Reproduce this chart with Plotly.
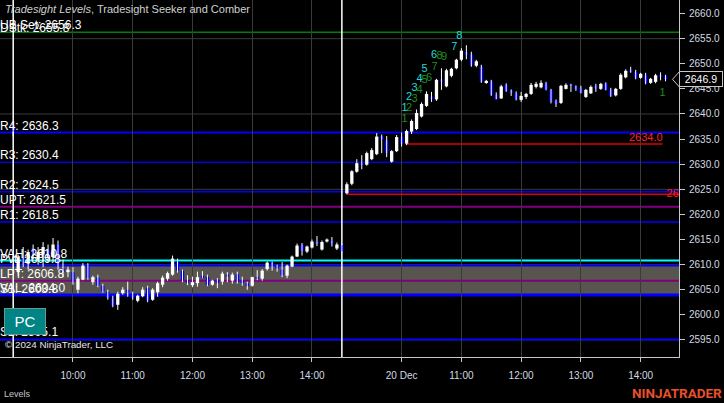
import plotly.graph_objects as go

# ---------------- data ----------------
# 5-minute bars; slot 0 = last bar of prior session, 1..66 = 19 Dec session, 67.. = 20 Dec session
opens = [2637.8,
 2608.5, 2611.5, 2610.2, 2613.3, 2611.0, 2612.0, 2613.0, 2611.5, 2614.0, 2609.2,
 2608.5, 2608.5, 2605.0, 2607.0, 2609.7, 2606.5, 2607.4, 2605.8, 2604.6, 2603.4,
 2602.0, 2604.3, 2605.0, 2604.2, 2602.8, 2603.7, 2605.4, 2603.0, 2604.5, 2606.0,
 2607.2, 2608.0, 2610.6, 2608.8, 2606.9, 2605.9, 2606.3, 2607.8, 2607.6, 2606.0,
 2607.0, 2606.6, 2608.0, 2606.8, 2608.1, 2606.9, 2606.3, 2605.8, 2607.4, 2607.2,
 2609.1, 2610.4, 2609.8, 2609.0, 2607.8, 2609.6, 2611.6, 2613.9, 2612.6, 2613.4,
 2614.6, 2613.0, 2614.6, 2614.7, 2613.2, 2613.9,
 2624.2, 2626.1, 2628.5, 2630.3, 2629.9, 2631.0, 2632.0, 2635.6, 2634.8, 2630.5,
 2632.6, 2635.5, 2634.1, 2636.5, 2637.0, 2639.5, 2641.6, 2643.5, 2642.9, 2646.9,
 2645.5, 2647.6, 2649.1, 2650.8, 2652.3, 2651.9, 2649.6, 2649.4, 2646.3, 2646.5,
 2643.8, 2643.1, 2645.8, 2644.7, 2644.1, 2642.8, 2643.4, 2644.0, 2645.4, 2645.3,
 2646.1, 2644.8, 2642.6, 2642.2, 2645.0, 2645.9, 2645.5, 2645.1, 2643.4, 2644.1,
 2645.6, 2645.0, 2646.1, 2644.9, 2643.7, 2645.0, 2647.3, 2648.6, 2648.4, 2647.2,
 2647.8, 2646.2, 2646.4, 2647.8, 2647.6]
highs = [2638.0,
 2612.0, 2613.5, 2613.0, 2614.0, 2613.5, 2614.5, 2614.0, 2615.3, 2614.8, 2611.0,
 2609.6, 2609.5, 2607.6, 2610.3, 2610.3, 2607.8, 2608.0, 2606.2, 2605.0, 2603.8,
 2604.6, 2605.5, 2606.6, 2604.6, 2604.0, 2605.5, 2605.8, 2605.3, 2606.6, 2607.8,
 2608.6, 2611.8, 2611.2, 2609.0, 2607.9, 2607.6, 2608.6, 2608.7, 2608.0, 2607.0,
 2607.3, 2608.6, 2608.5, 2608.4, 2608.6, 2607.6, 2606.6, 2607.6, 2608.9, 2609.1,
 2610.6, 2610.6, 2610.0, 2610.5, 2610.0, 2611.8, 2614.2, 2614.3, 2613.8, 2615.0,
 2615.7, 2614.8, 2615.2, 2615.5, 2614.4, 2614.2,
 2626.4, 2628.8, 2631.0, 2631.8, 2632.5, 2633.2, 2636.2, 2635.9, 2635.6, 2632.8,
 2635.8, 2636.3, 2636.9, 2638.9, 2640.9, 2642.3, 2644.5, 2644.4, 2647.0, 2649.1,
 2649.0, 2649.2, 2651.0, 2653.1, 2653.7, 2652.4, 2650.8, 2649.8, 2646.8, 2646.8,
 2644.3, 2645.8, 2646.1, 2644.9, 2644.5, 2644.4, 2644.2, 2646.2, 2646.4, 2646.7,
 2646.4, 2645.0, 2642.9, 2645.8, 2646.1, 2646.0, 2645.7, 2645.6, 2645.0, 2645.7,
 2646.0, 2646.2, 2646.3, 2645.2, 2645.2, 2648.1, 2648.9, 2649.4, 2648.8, 2648.2,
 2648.2, 2647.2, 2648.0, 2648.3, 2647.8]
lows = [2635.5,
 2607.8, 2609.5, 2609.0, 2611.0, 2610.0, 2609.5, 2610.5, 2610.5, 2609.0, 2607.5,
 2607.5, 2606.0, 2604.3, 2606.9, 2607.0, 2606.0, 2605.5, 2604.4, 2603.0, 2601.5,
 2601.0, 2604.0, 2603.6, 2603.0, 2602.5, 2603.5, 2602.5, 2602.8, 2603.6, 2605.5,
 2606.8, 2607.8, 2608.4, 2606.5, 2605.9, 2605.5, 2605.6, 2607.3, 2605.7, 2605.8,
 2605.3, 2606.0, 2606.5, 2606.2, 2606.2, 2605.8, 2605.0, 2605.6, 2606.9, 2606.8,
 2608.8, 2608.8, 2608.6, 2607.5, 2607.3, 2609.5, 2611.5, 2611.8, 2612.3, 2613.2,
 2613.7, 2612.8, 2614.4, 2613.6, 2612.9, 2612.4,
 2624.0, 2625.8, 2628.3, 2629.0, 2629.7, 2630.8, 2631.8, 2632.2, 2631.4, 2630.3,
 2632.4, 2633.5, 2633.8, 2636.0, 2636.8, 2639.3, 2641.4, 2642.4, 2642.6, 2644.8,
 2645.3, 2647.3, 2648.9, 2650.5, 2650.9, 2649.4, 2649.3, 2646.2, 2646.0, 2643.6,
 2642.9, 2643.0, 2644.4, 2643.6, 2642.7, 2642.4, 2643.0, 2643.8, 2645.1, 2645.1,
 2644.7, 2642.1, 2641.4, 2642.0, 2644.9, 2644.4, 2644.6, 2644.1, 2643.2, 2644.0,
 2644.4, 2644.8, 2644.7, 2643.4, 2643.5, 2644.8, 2647.1, 2648.2, 2646.9, 2647.0,
 2645.9, 2646.0, 2646.1, 2646.7, 2646.5]
closes = [2636.5,
 2611.5, 2610.2, 2612.5, 2611.9, 2612.5, 2613.5, 2611.5, 2614.0, 2609.7, 2608.5,
 2609.0, 2606.6, 2607.2, 2609.8, 2607.3, 2607.5, 2605.8, 2604.6, 2603.4, 2601.8,
 2604.2, 2605.0, 2604.4, 2603.3, 2603.8, 2605.0, 2602.8, 2605.0, 2606.3, 2607.4,
 2608.3, 2611.2, 2608.8, 2606.9, 2606.4, 2606.5, 2607.5, 2607.5, 2605.9, 2606.8,
 2606.3, 2608.2, 2607.6, 2608.0, 2606.6, 2606.3, 2605.7, 2607.5, 2607.2, 2608.8,
 2610.4, 2609.8, 2609.2, 2607.9, 2609.8, 2611.6, 2613.8, 2612.7, 2613.6, 2614.6,
 2614.1, 2614.5, 2615.0, 2614.2, 2614.0, 2612.6,
 2626.0, 2628.6, 2630.2, 2630.0, 2632.2, 2632.8, 2635.5, 2634.9, 2632.2, 2632.6,
 2635.4, 2634.0, 2636.6, 2638.6, 2640.2, 2642.0, 2644.0, 2642.9, 2646.8, 2646.4,
 2648.7, 2649.0, 2650.8, 2652.6, 2651.8, 2649.7, 2650.5, 2646.4, 2646.6, 2643.8,
 2643.0, 2645.5, 2644.6, 2644.2, 2642.9, 2643.6, 2644.0, 2645.8, 2646.0, 2646.2,
 2644.9, 2642.4, 2642.0, 2645.6, 2645.8, 2645.6, 2645.0, 2644.2, 2644.8, 2645.4,
 2645.1, 2646.0, 2644.8, 2643.6, 2645.0, 2647.8, 2648.6, 2648.5, 2647.1, 2648.0,
 2646.1, 2647.0, 2647.7, 2647.4, 2646.9]
bar_slot = list(range(len(opens)))

session_break_slots = [0, 66]

tick_slots = [12, 24, 36, 48, 60, 78, 90, 102, 114, 126]
tick_labels = ["10:00", "11:00", "12:00", "13:00", "14:00",
               "20 Dec", "11:00", "12:00", "13:00", "14:00"]

y_ticks = [2595, 2600, 2605, 2610, 2615, 2620, 2625, 2630, 2635, 2640, 2645, 2650, 2655, 2660]
grid_levels = [2595, 2610, 2625, 2640, 2655]

level_names = ["UB Set", "DStk", "R4", "R3", "R2", "UPT", "R1",
               "VAH", "Pvt", "LPT", "VAL", "S1", "S2"]
level_values = [2656.3, 2655.8, 2636.3, 2630.4, 2624.5, 2621.5, 2618.5,
                2610.8, 2609.8, 2606.8, 2604.0, 2603.8, 2595.1]
level_colors = ["#008000", None, "#0000ff", "#0000d8", "#0000ff", "#800080", "#0000ff",
                "#00ffff", "#0000ff", "#800080", "#0000ff", "#0000ff", "#0000ff"]
level_widths = [1.5, 0, 2, 1.5, 1.5, 2, 1.5, 2, 2, 2, 2.5, 1.5, 2]

value_area = [2609.8, 2604.0]

target_values = [2634.0, 2624.0]
target_start = [78.8, 67]
target_end = [130.4, 140]

seeker_slots = [78.6, 79.5, 80.6, 81.6, 82.6, 84.5, 88.6, 89.6]
seeker_prices = [2641.1, 2643.3, 2645.1, 2646.9, 2648.9, 2651.7, 2653.3, 2655.5]
seeker_labels = ["1", "2", "3", "4", "5", "6", "7", "8"]

comber_slots = [78.6, 79.5, 80.6, 81.6, 82.6, 83.5, 84.6, 85.6, 86.5, 130.4]
comber_prices = [2638.9, 2641.1, 2642.9, 2644.8, 2646.8, 2647.1, 2649.4, 2651.4, 2651.3, 2644.1]
comber_labels = ["1", "2", "3", "4", "5", "6", "7", "8", "9", "1"]

# ---------------- figure ----------------
PW, PH = 679.0, 357.0
X_RANGE = [-2.65, 133.7]
Y_RANGE = [2591.6, 2662.7]


def px_x(px):
    return px / PW


def px_y(py):
    return 1 - py / PH


fig = go.Figure()

# wicks
wx, wy = [], []
for s, h, l in zip(bar_slot, highs, lows):
    wx += [s, s, None]
    wy += [l, h, None]
fig.add_trace(go.Scatter(x=wx, y=wy, mode="lines", line=dict(color="white", width=1),
                         hoverinfo="skip"))

# red target labels (clipped at plot edge)
fig.add_trace(go.Scatter(
    x=[target_end[0], 131.2], y=target_values, mode="text",
    text=[f"{v:.1f}" for v in target_values],
    textposition=["top left", "middle right"],
    textfont=dict(family="Arial", size=11, color="#ff2020"),
    cliponaxis=True, hoverinfo="skip"))

# count labels
fig.add_trace(go.Scatter(x=comber_slots, y=comber_prices, mode="text", text=comber_labels,
                         textfont=dict(family="Arial", size=11, color="#1f8f1f"),
                         hoverinfo="skip"))
fig.add_trace(go.Scatter(x=seeker_slots, y=seeker_prices, mode="text", text=seeker_labels,
                         textfont=dict(family="Arial", size=11, color="#22d8d8"),
                         hoverinfo="skip"))

# bodies
base = [min(o, c) for o, c in zip(opens, closes)]
height = [max(abs(c - o), 0.18) for o, c in zip(opens, closes)]
colors = ["white" if c >= o else "#0000ff" for o, c in zip(opens, closes)]
fig.add_trace(go.Bar(x=bar_slot, y=height, base=base, width=0.66,
                     marker=dict(color=colors, line=dict(width=0)), hoverinfo="skip"))

shapes = []
# horizontal grid
for g in grid_levels:
    shapes.append(dict(type="line", xref="paper", x0=0, x1=1, yref="y", y0=g, y1=g,
                       line=dict(color="#3a3a3a", width=1), layer="below"))
# value area fill
shapes.append(dict(type="rect", xref="paper", x0=0, x1=1, yref="y",
                   y0=value_area[1], y1=value_area[0],
                   fillcolor="rgb(88,85,78)", line=dict(width=0), layer="below"))
# level lines
for v, c, w in zip(level_values, level_colors, level_widths):
    if c is None:
        continue
    shapes.append(dict(type="line", xref="paper", x0=0, x1=1, yref="y", y0=v, y1=v,
                       line=dict(color=c, width=w), layer="between"))
# red target lines
for v, a, b in zip(target_values, target_start, target_end):
    shapes.append(dict(type="line", xref="x", x0=a, x1=b, yref="y", y0=v, y1=v,
                       line=dict(color="#e00000", width=1.5), layer="between"))
# session breaks
for s in session_break_slots:
    shapes.append(dict(type="line", xref="x", x0=s, x1=s, yref="paper", y0=0, y1=1,
                       line=dict(color="white", width=1.5), layer="between"))
# last price arrow
last = closes[-1]
shapes.append(dict(type="path", xref="paper", xanchor=1, xsizemode="pixel",
                   yref="y", yanchor=last, ysizemode="pixel",
                   path="M 0.5,7.8 L -6.5,0 L 0.5,-7.8",
                   line=dict(color="#c8c8c8", width=1), fillcolor="black", layer="above"))

annotations = []
for name, v in zip(level_names, level_values):
    annotations.append(dict(xref="paper", x=0, xanchor="left", xshift=-2,
                            yref="y", y=v, yanchor="middle", yshift=7,
                            text=f"{name}: {v:.1f}", showarrow=False,
                            font=dict(family="Arial", size=12, color="white")))
annotations += [
    dict(xref="paper", x=px_x(25), xanchor="center", yref="paper", y=px_y(321),
         yanchor="middle", text="PC", showarrow=False,
         bgcolor="#008484", bordercolor="#5f9c9c", borderwidth=1, width=38, height=23,
         font=dict(family="Arial", size=15, color="white")),
    dict(xref="paper", x=px_x(3), xanchor="left", yref="paper", y=px_y(344),
         yanchor="middle", text="© 2024 NinjaTrader, LLC", showarrow=False,
         font=dict(family="Arial", size=9.8, color="#e6e6e6")),
    dict(xref="paper", x=px_x(3), xanchor="left", yref="paper", y=px_y(9),
         yanchor="middle",
         text="<i>Tradesight Levels</i>, Tradesight Seeker and Comber", showarrow=False,
         font=dict(family="Arial", size=11, color="#d0d0d0")),
    dict(xref="paper", x=px_x(2), xanchor="left", yref="paper", y=px_y(394),
         yanchor="middle", text="Levels", showarrow=False,
         font=dict(family="Arial", size=9, color="#c8c8c8")),
    dict(xref="paper", x=px_x(724), xanchor="right", yref="paper", y=px_y(393),
         yanchor="middle", text="<b>NINJATRADER</b>", showarrow=False,
         font=dict(family="Roboto", size=13.5, color="#e8502c")),
    dict(xref="paper", x=1, xanchor="left", xshift=0, yref="y", y=last, yanchor="middle",
         text=f"{last:.1f}", showarrow=False, bgcolor="black", bordercolor="#c8c8c8",
         borderwidth=1, borderpad=1, width=40, height=12,
         font=dict(family="Arial", size=10.5, color="white")),
]

fig.update_layout(
    width=724, height=403, margin=dict(l=0, r=45, t=0, b=46),
    paper_bgcolor="black", plot_bgcolor="black", showlegend=False,
    shapes=shapes, annotations=annotations,
    xaxis=dict(range=X_RANGE, tickmode="array", tickvals=tick_slots, ticktext=tick_labels,
               showgrid=True, gridcolor="#3a3a3a", gridwidth=1, zeroline=False,
               showline=True, linecolor="#c8c8c8", linewidth=1,
               ticks="outside", ticklen=4, tickcolor="#c8c8c8", ticklabelstandoff=5,
               tickfont=dict(family="Arial", size=10, color="#d4dae2"), fixedrange=True),
    yaxis=dict(side="right", range=Y_RANGE, tickmode="array", tickvals=y_ticks,
               ticktext=[f"{v:.1f}" for v in y_ticks],
               showgrid=False, zeroline=False, showline=True, linecolor="#c8c8c8",
               linewidth=1, ticks="outside", ticklen=5, tickcolor="#c8c8c8",
               ticklabelstandoff=2,
               tickfont=dict(family="Arial", size=10, color="#d4dae2"), fixedrange=True),
)

fig.write_html("out.html", config={"displayModeBar": False},
               post_script="document.body.style.margin='0';document.body.style.background='black';")
